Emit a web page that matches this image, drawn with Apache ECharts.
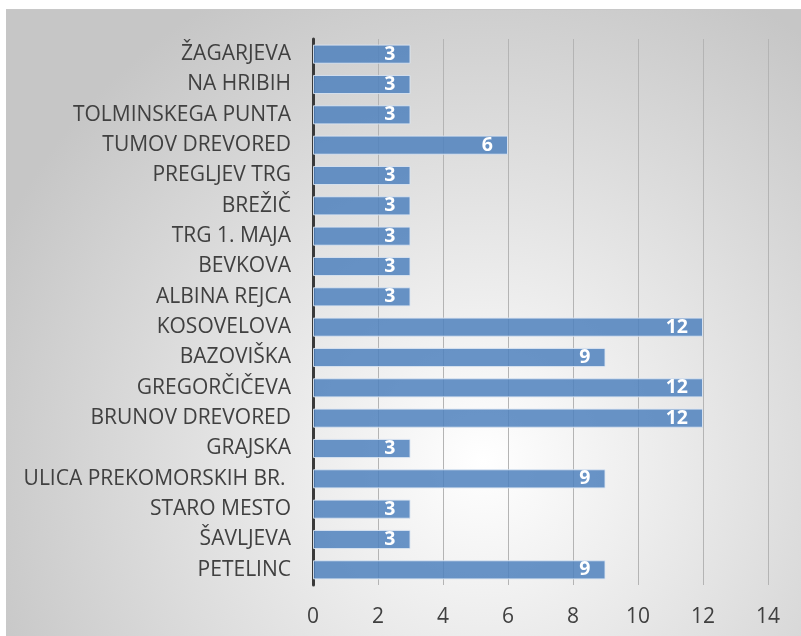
<!DOCTYPE html>
<html>
<head>
<meta charset="utf-8">
<script src="https://cdn.jsdelivr.net/npm/echarts@6/dist/echarts.min.js"></script>
<style>
  html, body { margin: 0; padding: 0; background: #ffffff; }
  .echart {
    position: absolute;
    left: 6px;
    top: 9px;
    width: 795px;
    height: 627px;
    border-top: 1px solid #c8c8c8;
    box-sizing: border-box;
  }
</style>
</head>
<body>
<div id="echart" class="echart"></div>
<script>
// ulice, od zgoraj navzdol
var categories = [
  'ŽAGARJEVA', 'NA HRIBIH', 'TOLMINSKEGA PUNTA', 'TUMOV DREVORED',
  'PREGLJEV TRG', 'BREŽIČ', 'TRG 1. MAJA', 'BEVKOVA', 'ALBINA REJCA',
  'KOSOVELOVA', 'BAZOVIŠKA', 'GREGORČIČEVA', 'BRUNOV DREVORED', 'GRAJSKA',
  'ULICA PREKOMORSKIH BR. ', 'STARO MESTO', 'ŠAVLJEVA', 'PETELINC'
];
var values = [3, 3, 3, 6, 3, 3, 3, 3, 3, 12, 9, 12, 12, 3, 9, 3, 3, 9];
var xTicks = [0, 2, 4, 6, 8, 10, 12, 14];

var myChart = echarts.init(document.getElementById('echart'));
var fontFam = '"Open Sans", "Noto Sans", sans-serif';

var options = {
  backgroundColor: {
    type: 'radial',
    x: 0.6, y: 0.72, r: 0.85,
    colorStops: [
      { offset: 0, color: '#ffffff' },
      { offset: 1, color: '#c6c6c6' }
    ]
  },
  animation: false,
  grid: { left: 307, right: 33, top: 29, bottom: 51 },
  xAxis: {
    type: 'value',
    min: xTicks[0],
    max: xTicks[xTicks.length - 1],
    interval: 2,
    axisLine: { show: false },
    axisTick: { show: false },
    splitLine: { show: true, lineStyle: { color: '#b4b4b4', width: 1 } },
    axisLabel: { color: '#404040', fontSize: 21, fontFamily: fontFam, margin: 22 }
  },
  yAxis: {
    type: 'category',
    data: categories,
    inverse: true,
    axisLine: { show: true, lineStyle: { color: '#3a3a3a', width: 3 } },
    axisTick: { show: false },
    axisLabel: { color: '#404040', fontSize: 21, fontFamily: fontFam, margin: 22 }
  },
  series: [{
    type: 'bar',
    data: values,
    barCategoryGap: '37%',
    itemStyle: {
      color: 'rgba(79,129,189,0.85)',
      borderColor: 'rgba(220,230,242,0.9)',
      borderWidth: 1
    },
    label: {
      show: true,
      position: 'insideRight',
      distance: 15,
      color: '#ffffff',
      fontWeight: 'bold',
      fontSize: 19.5,
      fontFamily: fontFam
    }
  }]
};

myChart.setOption(options);
</script>
</body>
</html>
